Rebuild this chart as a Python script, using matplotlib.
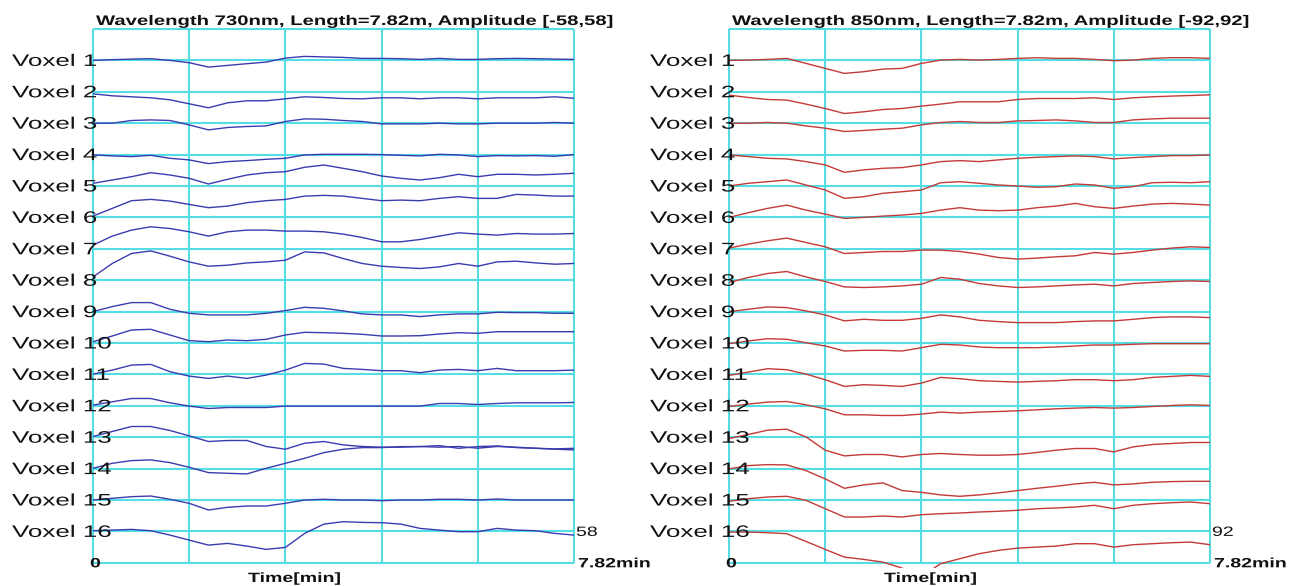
import numpy as np
import matplotlib
matplotlib.use("Agg")
import matplotlib.pyplot as plt
from matplotlib.patheffects import AbstractPathEffect
from matplotlib.transforms import Affine2D

W, H = 1300, 586

duration = 7.82
wavelengths = [730, 850]
amplitudes = [58, 92]
voxel_names = ["Voxel %d" % i for i in range(1, 17)]
times = np.linspace(0, duration, 26)

# deflection of every trace from its baseline (pixels, up = +)
trace_730 = [
    [0, 0.7, 1.3, 1.7, 0, -2.3, -6.7, -5, -3.3, -1.7, 2.3, 4, 3.5, 3, 2, 2, 1.7, 1, 2, 1, 1, 1.7, 2, 1.7, 1.3, 1],
    [-2, -4, -5, -6, -8, -12, -16, -11, -9, -9, -7, -5, -5.7, -6.7, -7, -6, -6, -7, -6, -6, -7, -6, -6, -6, -5, -6.5],
    [0, 0, 2.7, 3.3, 2.7, -1.7, -6.7, -4.3, -3.3, -2.7, 1.7, 4.3, 4, 2.7, 1.7, -0.7, -0.7, -0.7, 0, -0.7, -0.7, 0, 0, 0, 0.7, 0],
    [-0.3, -1.3, -2, -0.7, -3.7, -5.3, -9, -7, -6, -4.7, -3.7, -0.3, 0.3, 0.3, 0.3, 0, -0.7, -1.3, 0.3, -0.3, -2, -1, -1.3, -1, -1.7, 0],
    [2.7, 6, 9.3, 13.3, 11, 7.7, 2, 6.7, 11, 13.3, 14.3, 18.7, 21, 17.7, 14.3, 10, 7.7, 6, 8.3, 11.7, 9.3, 11.7, 11.7, 11, 11.7, 12.7],
    [1.3, 9, 16.7, 18, 16.3, 13, 9.7, 11.3, 14.7, 16.7, 18, 21.3, 22, 21.3, 19, 16.7, 17.3, 16.7, 19, 20.7, 19, 19, 23, 22.3, 21.3, 21.3],
    [3.7, 12.7, 18.7, 22, 20.3, 17, 12.7, 17, 18.7, 18.7, 17.7, 17.7, 17, 14.7, 11.3, 7, 7, 9.3, 12.7, 16, 14.7, 13.7, 15.3, 14.7, 14.7, 15.3],
    [3.3, 16.7, 26.7, 29.3, 24, 18.3, 14, 15, 17.3, 18.3, 20, 28.3, 27.3, 21.7, 16.7, 14, 12.7, 11.7, 13.3, 16.7, 14, 18.3, 19, 17.3, 16, 16.7],
    [0, 5, 9, 9, 2.3, -1.7, -3.3, -3.3, -3.3, -1.7, 1, 4.3, 3.3, 0.7, -2.3, -3.3, -3.3, -5, -3.3, -2.3, -2.3, -0.7, -1, -1, -1.7, -1.7],
    [1.3, 7, 13, 13.7, 8, 2.3, 1.3, 3, 2.3, 3.7, 8, 10.7, 10.3, 9.7, 8.7, 7, 7, 7.3, 9, 10.3, 9.7, 11.3, 11.3, 11.3, 11.3, 11.3],
    [0.3, 4.3, 9.3, 10, 2.7, -1.7, -4, -1.7, -4, -0.7, 4.3, 11, 10.3, 6, 5, 3.7, 3.7, 1.7, 4.3, 5, 3.7, 6, 3.7, 3.7, 3.7, 4.3],
    [0.7, 4, 7.3, 7.3, 3, -0.3, -2.7, -1.7, -1.7, -1.7, -0.3, -0.3, -0.3, -0.3, -0.3, -0.3, -0.3, -0.3, 2.3, 2.3, 1.3, 2.3, 3, 3, 3, 3.3],
    [0.7, 5.7, 10.7, 10.7, 6.7, 1.3, -4.3, -3.3, -3.3, -9.3, -12, -6, -4.3, -7.7, -9.3, -10, -10, -9.3, -10, -9.3, -11, -9.3, -10, -11, -12, -12.7],
    [0.3, 5.3, 8, 8.7, 6, 1.3, -4, -4.7, -5.3, 0.3, 5.3, 10.3, 16, 19.3, 21, 21, 22, 22, 23, 20.3, 22, 22.7, 21, 20.3, 19.7, 20.3],
    [0, 1.7, 3.3, 4, 0.7, -3.3, -10, -7.3, -6, -6, -3.3, 0, 0.7, 0, 0, -0.7, 0, 0, 0.7, 0.7, 0, 1, 0, 0, 0, 0],
    [0.7, 1.3, 2, 0.7, -3.7, -8.7, -13.7, -12, -14.7, -18, -16, -2, 7.3, 9.7, 9, 8.7, 7.3, 3, 1.3, -0.3, -0.3, 3, 1.3, 0.7, -2, -3.7],
]

trace_850 = [
    [0, 0.3, 1, 2, -3, -8, -13, -11.3, -8.7, -8, -3, 0.3, 1, 0.3, 1, 2, 2.7, 2, 2, 1, -0.3, 0.3, 2, 2.7, 2.7, 2],
    [-3.3, -5.7, -7.7, -8.3, -12.3, -16.7, -21.7, -20, -17.7, -16.7, -14.3, -12.3, -10, -10, -10, -7.7, -6.7, -6.7, -6.7, -6, -7.7, -6, -5, -4.3, -3.7, -3],
    [0, 0, 0.7, 0, -2.7, -5, -8.3, -7.3, -6, -5, -1.7, 0.7, 1.7, 0.7, 0.7, 2.3, 2.7, 3.3, 2.3, 0.7, 0.7, 3.3, 4.3, 5, 5, 5],
    [-0.3, -2, -3.7, -4.3, -7, -10.3, -17.7, -15.3, -13.7, -13, -10.3, -7, -6, -7, -5.3, -3.7, -2.7, -2, -1.3, -2, -4.3, -3, -2, -1, -1, -0.3],
    [0, 2.7, 4.3, 6, 1, -4, -12.3, -10.7, -7.3, -5.7, -4, 3.3, 4.3, 2.7, 1, 0, -1.3, -0.7, 2, 1, -2.3, -0.7, 3.3, 3.7, 3.3, 4.3],
    [0, 4.7, 9, 12.3, 7.3, 3.3, -1, 0, 1.3, 2.3, 4, 7.3, 9.7, 7.3, 6.7, 7.3, 9.7, 11.3, 14, 10.7, 9, 11.3, 13.3, 14, 13.3, 12.3],
    [0.7, 4.7, 8, 10.7, 6.3, 2, -4.7, -3.7, -2.7, -2.7, -1.3, -1.3, -2.7, -5.3, -8.7, -10.3, -9.3, -8, -7, -3.7, -5.3, -3.7, -1.3, 0.7, 2, 1.3],
    [-2.3, 2.7, 6.7, 8.7, 3.3, -1.3, -6.7, -7.3, -6.7, -5.7, -4, 2.7, 1, -3.3, -5.7, -7.3, -6.7, -5.7, -4.7, -4, -5.7, -3.3, -2.3, -1.3, -0.7, -1.3],
    [0, 2.3, 4.7, 4, 0.7, -3.3, -9.3, -7.7, -8.7, -8.7, -6.7, -3.3, -5.3, -8.7, -10, -11, -11, -11, -10, -9.3, -9.3, -7.7, -6, -5.3, -5.3, -6],
    [-0.7, 2, 4.3, 3.7, 0.3, -3, -8, -7.3, -7.3, -8, -4.7, -1.3, -2, -4, -4.7, -4.7, -4.7, -4, -3, -2, -2, -1.3, -0.7, -0.7, -0.7, -0.7],
    [-1, 2.3, 5.7, 4.7, 0.3, -5.3, -12, -10.3, -11, -12, -8.7, -3, -4.3, -6.3, -7, -7.7, -7, -6.3, -5.3, -5.3, -6.3, -5.3, -3, -2, -1, -2],
    [-0.7, 1.7, 3.7, 4.3, 1, -3, -9, -9, -9.7, -9.7, -8.3, -6.3, -7.3, -6.3, -5.7, -5, -4, -3, -2.3, -1.7, -2.3, -1.7, -0.7, 0.3, 1, 0.3],
    [-1.3, 2.7, 7, 8, 0.3, -13, -18.7, -17.3, -17.3, -19.7, -17.3, -16.3, -17.3, -18, -18, -17.3, -15.3, -13, -11.3, -11.3, -14.7, -9.7, -7.3, -6.3, -5.3, -5.3],
    [-0.3, 3, 4, 3.7, -2, -10.3, -19.7, -16.3, -14.3, -22, -23.7, -26.3, -27.7, -26.3, -24.3, -22, -19.7, -17.7, -15.3, -13.7, -16.3, -15.3, -13.7, -13, -12.7, -12.7],
    [-1.3, 1.3, 3, 3.7, -0.3, -8.7, -17, -17, -16, -17, -14.7, -13.7, -13, -12, -11.3, -10.3, -8.7, -8, -7, -5.3, -8.7, -5.3, -3.7, -2.7, -2, -3.7],
    [-0.7, -0.7, -1.3, -2.3, -10, -18, -25.7, -28, -30.7, -36.7, -45, -32.3, -27.3, -22.3, -19, -16.7, -15.7, -14.7, -12.3, -12.3, -15.7, -13.3, -12.3, -11.3, -10.7, -13.3],
]

traces = [trace_730, trace_850]
trace_colors = ["#3b3bb0", "#c43a36"]
grid_color = "#55dde6"


class StretchX(AbstractPathEffect):
    # the screenshot is stretched sideways, so widen the glyphs about the text anchor
    def __init__(self, sx):
        super().__init__()
        self.sx = sx

    def draw_path(self, renderer, gc, tpath, affine, rgbFace=None):
        m = affine.get_matrix()
        x0, y0 = m[0, 2], m[1, 2]
        st = Affine2D().translate(-x0, -y0).scale(self.sx, 1).translate(x0, y0)
        renderer.draw_path(gc, tpath, affine + st, rgbFace)


def ptext(px, py, s, size, weight="normal", sx=1.45, va="baseline"):
    fig.text(px / W, 1 - py / H, s, fontsize=size, fontweight=weight,
             family="Liberation Sans", ha="left", va=va, color="#111111",
             path_effects=[StretchX(sx)])


ROW = 31.4
TOP = 29.0
BOT = TOP + 17 * ROW
CLIP = 0.15
panel_x = [(93, 574), (729, 1210)]
label_x = [12, 650]

fig = plt.figure(figsize=(W / 100, H / 100), dpi=100)

for p in range(2):
    x0, x1 = panel_x[p]
    ax = fig.add_axes([x0 / W, 1 - (BOT + CLIP * ROW) / H,
                       (x1 - x0) / W, (BOT + CLIP * ROW - TOP) / H])
    ax.set_xlim(0, duration)
    ax.set_ylim(-CLIP, 17)
    ax.axis("off")

    for r in range(18):
        ax.hlines(r, 0, duration, color=grid_color, lw=1.5, clip_on=False, zorder=1)
    for t in np.linspace(0, duration, 6):
        ax.vlines(t, 0, 17, color=grid_color, lw=1.5, clip_on=False, zorder=1)

    for i, d in enumerate(traces[p]):
        base = 16 - i
        ax.plot(times, base + np.array(d) / ROW, color=trace_colors[p], lw=1.0, zorder=3)

    title = "Wavelength %dnm, Length=%.2fm, Amplitude [-%d,%d]" % (
        wavelengths[p], duration, amplitudes[p], amplitudes[p])
    ptext(x0 + 3, 25, title, 10, weight="bold", sx=1.46)

    for i, name in enumerate(voxel_names):
        ptext(label_x[p], TOP + (i + 1) * ROW + 5.5, name, 12, sx=1.56)

    ptext(x0 - 3, BOT + 4.5, "0", 9.7, weight="bold")
    ptext(x1 + 4, BOT + 4.5, "%.2fmin" % duration, 9.7, weight="bold")
    ptext(x1 + 2, BOT - ROW + 4.5, str(amplitudes[p]), 9.7, weight="normal")
    ptext(x0 + 155, 582, "Time[min]", 9.7, weight="bold")

fig.savefig("out.png", dpi=100, facecolor="white")
